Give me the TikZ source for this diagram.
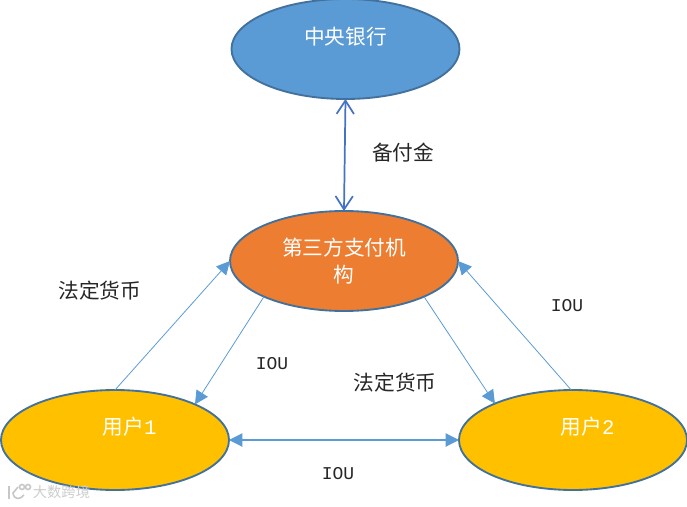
\documentclass[tikz,border=0pt]{standalone}
\usepackage{fontspec}
\newfontfamily\cjk{Noto Sans CJK SC}
\newfontfamily\latinmono{Liberation Mono}
\usetikzlibrary{shapes.geometric,arrows.meta}
\tikzset{
  oval/.style={ellipse,draw=#1,line width=1.4pt,inner sep=0pt,outer sep=0pt,minimum width=171pt,minimum height=75pt,align=center,text=white,font=\cjk\fontsize{15.5}{20.3}\selectfont},
  lab/.style={inner sep=0pt,text=black!85,font=\cjk\fontsize{15.5}{20}\selectfont},
  iou/.style={inner sep=0pt,text=black!85,font=\latinmono\fontsize{13.5}{16}\selectfont},
  thin link/.style={draw=linkblue,line width=0.6pt,-{Triangle[length=10pt,width=10pt]}},
  both link/.style={draw=linkblue,line width=0.8pt,{Triangle[length=10pt,width=10pt]}-{Triangle[length=10pt,width=10pt]}},
  reserve link/.style={draw=reserveblue,line width=1.3pt,{Straight Barb[length=10pt,width=13pt,line width=1.3pt]}-{Straight Barb[length=10pt,width=13pt,line width=1.3pt]}},
  mark line/.style={draw=black!22,line width=1.2pt,fill=none},
}
\definecolor{bankblue}{HTML}{5B9BD5}
\definecolor{rim}{HTML}{41719C}
\definecolor{payorange}{HTML}{ED7D31}
\definecolor{useryellow}{HTML}{FFC000}
\definecolor{linkblue}{HTML}{5B9BD5}
\definecolor{reserveblue}{HTML}{4472C4}
\begin{document}
\begin{tikzpicture}[x=0.75pt,y=-0.75pt]
\useasboundingbox (0,0) rectangle (687,507);
\node[oval=rim,fill=bankblue] (bank) at (345.5,49) {\raisebox{19.5pt}{中央银行}};
\node[oval=rim,fill=payorange] (pay) at (344,261) {第三方支付机\\构};
\node[oval=rim,fill=useryellow] (u1) at (115,440) {\hspace*{22pt}\raisebox{21pt}{用户{\latinmono 1}}};
\node[oval=rim,fill=useryellow] (u2) at (573,440) {\hspace*{22pt}\raisebox{21pt}{用户{\latinmono 2}}};
\draw[reserve link] (bank.south) -- (pay.north);
\draw[thin link] (u1.north) -- (pay.west);
\draw[thin link] (pay.204) -- (u1.24);
\draw[thin link] (pay.336) -- (u2.155);
\draw[thin link] (u2.92) -- (pay.east);
\draw[both link] (u1.east) -- (u2.west);
\node[lab] (l1) at (403,153) {备付金};
\node[lab] (l2) at (100,291) {法定货币};
\node[lab] (l3) at (395,383) {法定货币};
\node[iou] (l4) at (272,364) {IOU};
\node[iou] (l5) at (567,306) {IOU};
\node[iou] (l6) at (338,474) {IOU};
\node[inner sep=0pt,text=black!20,font=\cjk\fontsize{10.7}{11}\selectfont] (wm) at (61.5,492) {大数跨境};
\draw[mark line] (9,486) -- (9,499);
\draw[mark line] (18,487) -- (13,493) .. controls (14,500) and (20,500) .. (24,495);
\draw[mark line] (22,487) circle[radius=2.5];
\draw[mark line] (28,487) circle[radius=2.5];
\end{tikzpicture}
\end{document}
